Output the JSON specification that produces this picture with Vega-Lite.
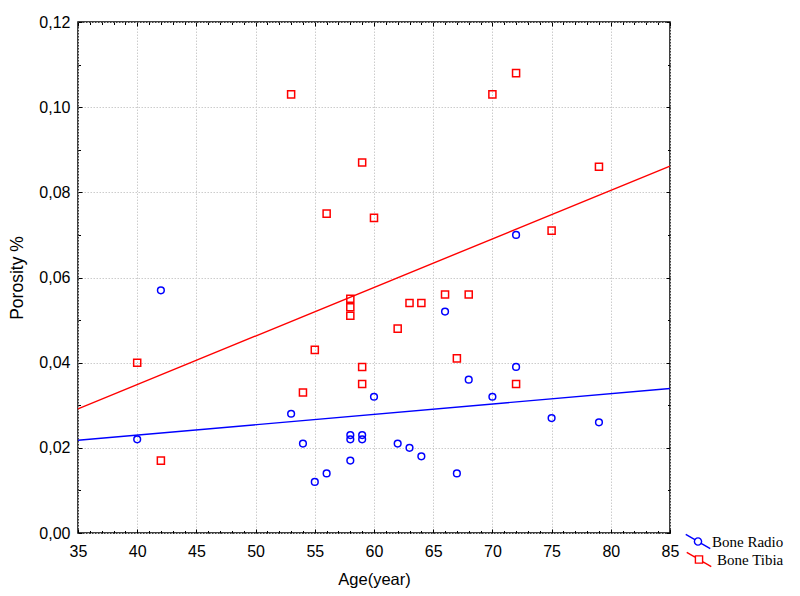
{
  "$schema": "https://vega.github.io/schema/vega-lite/v6.json",
  "width": 592,
  "height": 511,
  "padding": {"left": 8, "top": 14, "right": 5, "bottom": 5},
  "background": "white",
  "config": {
    "view": {"stroke": "black", "strokeWidth": 1.5},
    "axis": {
      "labelFont": "Liberation Sans",
      "titleFont": "Liberation Sans",
      "labelColor": "black",
      "titleColor": "black",
      "titleFontWeight": "normal",
      "tickColor": "black",
      "labelFlush": false,
      "labelOverlap": false
    },
    "legend": {
      "labelFont": "Liberation Serif",
      "labelFontSize": 15,
      "labelColor": "black",
      "symbolSize": 340,
      "symbolStrokeWidth": 1.4,
      "symbolFillColor": "transparent",
      "symbolOpacity": 1
    }
  },
  "data": {
    "values": [
      {"Age": 40, "Porosity": 0.022, "Bone": "Bone Radio"},
      {"Age": 42, "Porosity": 0.057, "Bone": "Bone Radio"},
      {"Age": 53, "Porosity": 0.028, "Bone": "Bone Radio"},
      {"Age": 54, "Porosity": 0.021, "Bone": "Bone Radio"},
      {"Age": 55, "Porosity": 0.012, "Bone": "Bone Radio"},
      {"Age": 56, "Porosity": 0.014, "Bone": "Bone Radio"},
      {"Age": 58, "Porosity": 0.017, "Bone": "Bone Radio"},
      {"Age": 58, "Porosity": 0.022, "Bone": "Bone Radio"},
      {"Age": 58, "Porosity": 0.023, "Bone": "Bone Radio"},
      {"Age": 59, "Porosity": 0.022, "Bone": "Bone Radio"},
      {"Age": 59, "Porosity": 0.023, "Bone": "Bone Radio"},
      {"Age": 60, "Porosity": 0.032, "Bone": "Bone Radio"},
      {"Age": 62, "Porosity": 0.021, "Bone": "Bone Radio"},
      {"Age": 63, "Porosity": 0.020, "Bone": "Bone Radio"},
      {"Age": 64, "Porosity": 0.018, "Bone": "Bone Radio"},
      {"Age": 66, "Porosity": 0.052, "Bone": "Bone Radio"},
      {"Age": 67, "Porosity": 0.014, "Bone": "Bone Radio"},
      {"Age": 68, "Porosity": 0.036, "Bone": "Bone Radio"},
      {"Age": 70, "Porosity": 0.032, "Bone": "Bone Radio"},
      {"Age": 72, "Porosity": 0.070, "Bone": "Bone Radio"},
      {"Age": 72, "Porosity": 0.039, "Bone": "Bone Radio"},
      {"Age": 75, "Porosity": 0.027, "Bone": "Bone Radio"},
      {"Age": 79, "Porosity": 0.026, "Bone": "Bone Radio"},
      {"Age": 40, "Porosity": 0.040, "Bone": "Bone Tibia"},
      {"Age": 42, "Porosity": 0.017, "Bone": "Bone Tibia"},
      {"Age": 53, "Porosity": 0.103, "Bone": "Bone Tibia"},
      {"Age": 54, "Porosity": 0.033, "Bone": "Bone Tibia"},
      {"Age": 55, "Porosity": 0.043, "Bone": "Bone Tibia"},
      {"Age": 56, "Porosity": 0.075, "Bone": "Bone Tibia"},
      {"Age": 58, "Porosity": 0.055, "Bone": "Bone Tibia"},
      {"Age": 58, "Porosity": 0.053, "Bone": "Bone Tibia"},
      {"Age": 58, "Porosity": 0.051, "Bone": "Bone Tibia"},
      {"Age": 59, "Porosity": 0.087, "Bone": "Bone Tibia"},
      {"Age": 59, "Porosity": 0.039, "Bone": "Bone Tibia"},
      {"Age": 59, "Porosity": 0.035, "Bone": "Bone Tibia"},
      {"Age": 60, "Porosity": 0.074, "Bone": "Bone Tibia"},
      {"Age": 62, "Porosity": 0.048, "Bone": "Bone Tibia"},
      {"Age": 63, "Porosity": 0.054, "Bone": "Bone Tibia"},
      {"Age": 64, "Porosity": 0.054, "Bone": "Bone Tibia"},
      {"Age": 66, "Porosity": 0.056, "Bone": "Bone Tibia"},
      {"Age": 67, "Porosity": 0.041, "Bone": "Bone Tibia"},
      {"Age": 68, "Porosity": 0.056, "Bone": "Bone Tibia"},
      {"Age": 70, "Porosity": 0.103, "Bone": "Bone Tibia"},
      {"Age": 72, "Porosity": 0.108, "Bone": "Bone Tibia"},
      {"Age": 72, "Porosity": 0.035, "Bone": "Bone Tibia"},
      {"Age": 75, "Porosity": 0.071, "Bone": "Bone Tibia"},
      {"Age": 79, "Porosity": 0.086, "Bone": "Bone Tibia"}
    ]
  },
  "resolve": {"axis": {"x": "independent", "y": "independent"}, "legend": {"color": "independent"}},
  "layer": [
    {
      "mark": {"type": "point", "filled": false, "strokeWidth": 1.5, "opacity": 1},
      "encoding": {
        "x": {
          "field": "Age",
          "type": "quantitative",
          "scale": {"domain": [35, 85], "nice": false, "zero": false},
          "axis": {
            "orient": "bottom",
            "title": "Age(year)",
            "titleFontSize": 16.5,
            "titlePadding": 11,
            "values": [35,36,37,38,39,40,41,42,43,44,45,46,47,48,49,50,51,52,53,54,55,56,57,58,59,60,61,62,63,64,65,66,67,68,69,70,71,72,73,74,75,76,77,78,79,80,81,82,83,84,85],
            "labelExpr": "datum.value % 5 === 0 ? datum.label : ''",
            "labelFontSize": 16,
            "labelPadding": 14,
            "domain": false,
            "tickSize": {"condition": {"test": "datum.value % 5 === 0", "value": -4}, "value": -2.5},
            "grid": true,
            "gridColor": "#cccccc",
            "gridDash": [1.5, 1.5],
            "gridOpacity": {"condition": {"test": "datum.value % 5 === 0", "value": 1}, "value": 0}
          }
        },
        "y": {
          "field": "Porosity",
          "type": "quantitative",
          "scale": {"domain": [0, 0.12], "nice": false},
          "axis": {
            "orient": "left",
            "title": "Porosity %",
            "titleFontSize": 17.5,
            "titlePadding": 12,
            "values": [0, 0.01, 0.02, 0.03, 0.04, 0.05, 0.06, 0.07, 0.08, 0.09, 0.1, 0.11, 0.12],
            "labelExpr": "round(datum.value * 100) % 2 === 0 ? replace(format(datum.value, '.2f'), '.', ',') : ''",
            "labelFontSize": 16,
            "labelPadding": 12,
            "domain": false,
            "tickSize": {"condition": {"test": "round(datum.value * 100) % 2 === 0", "value": -4}, "value": -2.5},
            "grid": true,
            "gridColor": "#cccccc",
            "gridDash": [1.5, 1.5],
            "gridOpacity": {"condition": {"test": "round(datum.value * 100) % 2 === 0", "value": 1}, "value": 0}
          }
        },
        "shape": {"condition": {"test": "datum.Bone === 'Bone Radio'", "value": "circle"}, "value": "square"},
        "size": {"condition": {"test": "datum.Bone === 'Bone Radio'", "value": 45}, "value": 50},
        "color": {
          "field": "Bone",
          "type": "nominal",
          "scale": {"domain": ["Bone Radio", "Bone Tibia"], "range": ["#0000ff", "#ff0000"]},
          "legend": {
            "title": null,
            "orient": "none",
            "legendX": 611,
            "legendY": 527.5,
            "values": ["Bone Tibia"],
            "labelOffset": 8,
            "symbolType": "M-1.33,-0.78L-0.39,-0.23M0.39,0.23L1.33,0.78M-0.39,-0.39H0.39V0.39H-0.39Z"
          }
        }
      }
    },
    {
      "transform": [
        {"regression": "Porosity", "on": "Age", "groupby": ["Bone"], "extent": [35, 85]}
      ],
      "mark": {"type": "line", "strokeWidth": 1.4},
      "encoding": {
        "x": {"field": "Age", "type": "quantitative", "axis": null},
        "y": {"field": "Porosity", "type": "quantitative", "axis": null},
        "color": {
          "field": "Bone",
          "type": "nominal",
          "legend": {
            "title": null,
            "orient": "none",
            "legendX": 610,
            "legendY": 509.5,
            "values": ["Bone Radio"],
            "labelOffset": 4,
            "symbolType": "M-1.33,-0.78L-0.34,-0.2M0.34,0.2L1.33,0.78M0.39,0A0.39,0.39,0,1,1,-0.39,0A0.39,0.39,0,1,1,0.39,0"
          }
        }
      }
    },
    {
      "mark": {"type": "point", "opacity": 0},
      "encoding": {
        "x": {
          "field": "Age",
          "type": "quantitative",
          "axis": {
            "orient": "top",
            "title": null,
            "labels": false,
            "domain": false,
            "grid": false,
            "values": [35,36,37,38,39,40,41,42,43,44,45,46,47,48,49,50,51,52,53,54,55,56,57,58,59,60,61,62,63,64,65,66,67,68,69,70,71,72,73,74,75,76,77,78,79,80,81,82,83,84,85],
            "tickSize": {"condition": {"test": "datum.value % 5 === 0", "value": -4}, "value": -2.5}
          }
        },
        "y": {
          "field": "Porosity",
          "type": "quantitative",
          "axis": {
            "orient": "right",
            "title": null,
            "labels": false,
            "domain": false,
            "grid": false,
            "values": [0, 0.01, 0.02, 0.03, 0.04, 0.05, 0.06, 0.07, 0.08, 0.09, 0.1, 0.11, 0.12],
            "tickSize": {"condition": {"test": "round(datum.value * 100) % 2 === 0", "value": -4}, "value": -2.5}
          }
        }
      }
    }
  ]
}
